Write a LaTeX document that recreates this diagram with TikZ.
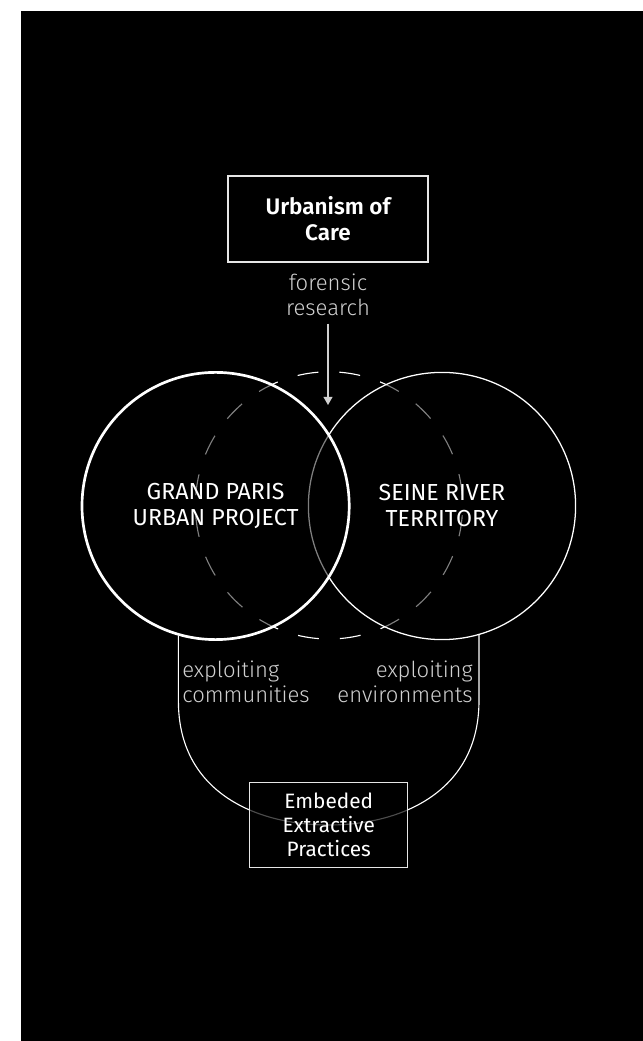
\documentclass[tikz,border=0pt]{standalone}
\usepackage{fontspec}
\setmainfont{Fira Sans}
\newfontfamily\lightfont{Fira Sans Light}
\newfontfamily\semifont{Fira Sans SemiBold}
\usetikzlibrary{arrows.meta}
\definecolor{softgray}{HTML}{D0D0D0}
\definecolor{dimgray}{HTML}{E6E6E6}

\begin{document}
\begin{tikzpicture}[
    >={Triangle[width=2.2mm,length=2mm]},
    ring/.style={circle, minimum size=6.68cm, inner sep=0pt, draw=white,
      fill=black, fill opacity=0.5, text opacity=1, text=white, align=center,
      font=\fontsize{16.5}{18.5}\selectfont},
    framebox/.style={draw=dimgray, line width=0.9pt, fill=black, text=white,
      align=center, inner sep=0pt},
    note/.style={text=softgray, inner sep=0pt, font=\lightfont\fontsize{15.7}{17.5}\selectfont},
    ushape/.style={white, line width=0.8pt},
    probe/.style={softgray, line width=0.9pt, ->}
  ]
  \useasboundingbox (0,0) rectangle (16.075,26.025);
  \fill[white] (0,0) rectangle (16.075,26.025);
  \fill[black] (0.525,0) rectangle (16.075,25.75);

  % forensic lens behind the two territories
  \draw[white, line width=0.8pt, dash pattern=on 0.525cm off 0.525cm, dash phase=0.7875cm]
    (8.225,13.39) circle (3.34);

  \node[ring, line width=0.9pt] (sr) at (11.05,13.375) {SEINE RIVER\\TERRITORY};
  \node[ring, line width=1.9pt] (gp) at (5.39,13.375) {GRAND PARIS\\URBAN PROJECT};

  \node[framebox, minimum width=5cm, minimum height=2.15cm,
    font=\semifont\fontsize{16}{18.5}\selectfont] (care) at (8.2,20.55) {Urbanism of\\Care};
  \node[note, align=center] (research) at (8.2,18.66) {forensic\\research};
  \coordinate (tip) at (8.2,15.9);
  \draw[probe] ([yshift=-2mm]research.south) -- (tip);

  % extraction loop under the circles
  \coordinate (ubot) at (8.22,5.4);
  \draw[ushape] (gp.254) -- ++(0,-1.64) .. controls ++(0,-2.25) and ([xshift=-1.85cm]ubot) .. (ubot);
  \draw[ushape] (sr.286) -- ++(0,-1.64) .. controls ++(0,-2.25) and ([xshift=1.85cm]ubot) .. (ubot);

  \node[note, anchor=west, align=left] (communities) at (4.55,8.975) {exploiting\\communities};
  \node[note, anchor=east, align=right] (environments) at (11.825,8.975) {exploiting\\environments};

  \node[framebox, fill opacity=0.7, text opacity=1, minimum width=3.95cm, minimum height=2.125cm,
    font=\fontsize{14.8}{17}\selectfont] (practices) at (ubot) {Embeded\\Extractive\\Practices};
\end{tikzpicture}
\end{document}
